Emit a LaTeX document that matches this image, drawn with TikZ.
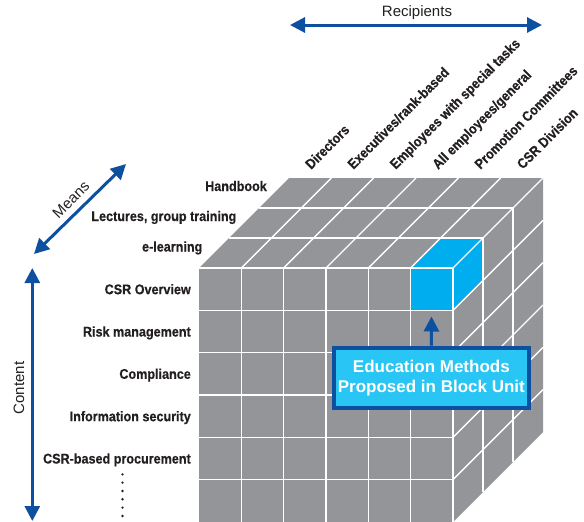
\documentclass[tikz,border=0pt]{standalone}
\usepackage{fontspec}
\setmainfont{Liberation Sans}
\newfontfamily\narrowfont{Liberation Sans}[FakeStretch=0.9, BoldFeatures={FakeBold=0.5}]
\usetikzlibrary{arrows.meta}
\definecolor{cubegray}{RGB}{147,149,152}
\definecolor{cellblue}{RGB}{0,174,239}
\definecolor{calloutfill}{RGB}{41,197,244}
\definecolor{navy}{RGB}{14,80,160}
\definecolor{ink}{RGB}{35,31,32}

\begin{document}
\begin{tikzpicture}[x=1pt,y=-1pt,
  headtip/.tip={Triangle[length=15pt,width=15pt]},
  axisarrow/.style={navy, line width=3pt, headtip-headtip},
  pointer/.style={navy, line width=3pt, -headtip},
  gridline/.style={white, line width=1.4pt},
  rowlabel/.style={font=\narrowfont\bfseries\fontsize{14}{16}\selectfont, anchor=base east, text=ink, inner sep=0pt},
  collabel/.style={rowlabel, anchor=base west, rotate=45},
  axislabel/.style={font=\fontsize{15}{18}\selectfont, text=ink, inner sep=0pt},
  callout/.style={draw=navy, line width=4pt, fill=calloutfill, text=white,
    font=\bfseries\fontsize{17}{20}\selectfont, align=center,
    minimum width=195.3pt, minimum height=60.3pt, inner sep=0pt},
]
\useasboundingbox (0,0) rectangle (584,522);

% cube faces: front, top and right side
\fill[cubegray] (199,268) rectangle (453,522);
\fill[cubegray] (199,268) -- (289,178) -- (543,178) -- (453,268) -- cycle;
\fill[cubegray] (453,268) -- (543,178) -- (543,432) -- (453,522) -- cycle;

% highlighted block at the front top right corner
\fill[cellblue] (410.67,268) rectangle (453,310.33);
\fill[cellblue] (410.67,268) -- (440.67,238) -- (483,238) -- (453,268) -- cycle;
\fill[cellblue] (453,268) -- (483,238) -- (483,280.33) -- (453,310.33) -- cycle;

% grid on the front face
\foreach \i in {1,...,6}
  \draw[gridline] ({199+42.333*\i},268) -- ({199+42.333*\i},522);
\foreach \j in {0,...,5}
  \draw[gridline] (199,{268+42.333*\j}) -- (453,{268+42.333*\j});
% grid on the top face
\foreach \k in {1,2}
  \draw[gridline] ({199+30*\k},{268-30*\k}) -- ({453+30*\k},{268-30*\k});
\foreach \i in {1,...,6}
  \draw[gridline] ({199+42.333*\i},268) -- ({289+42.333*\i},178);
% grid on the side face
\foreach \k in {1,2}
  \draw[gridline] ({453+30*\k},{268-30*\k}) -- ({453+30*\k},{522-30*\k});
\foreach \j in {1,...,5}
  \draw[gridline] (453,{268+42.333*\j}) -- (543,{178+42.333*\j});

% depth labels (means)
\node[rowlabel] (handbook) at (267,191) {Handbook};
\node[rowlabel] (lectures) at (236.5,221) {Lectures, group training};
\node[rowlabel] (elearning) at (202.5,251.5) {e-learning};

% row labels (content)
\node[rowlabel] (overview) at (191,294.2) {CSR Overview};
\node[rowlabel] (risk) at (191,336.5) {Risk management};
\node[rowlabel] (compliance) at (191,378.8) {Compliance};
\node[rowlabel] (infosec) at (191,421.2) {Information security};
\node[rowlabel] (procure) at (191,463.5) {CSR-based procurement};

% column labels (recipients)
\node[collabel] (directors) at (311,170) {Directors};
\node[collabel] (executives) at (353.3,170) {Executives/rank-based};
\node[collabel] (special) at (395.6,170) {Employees with special tasks};
\node[collabel] (general) at (438,170) {All employees/general};
\node[collabel] (promotion) at (480.3,170) {Promotion Committees};
\node[collabel] (csrdiv) at (522.6,170) {CSR Division};

% continuation dots below the last row label
\foreach \d in {0,...,6}
  \fill[ink] (122.5,{474.3+8.33*\d}) circle (1.3pt);

% axis arrows and their captions
\coordinate (recipL) at (290,25);
\coordinate (recipR) at (542,25);
\draw[axisarrow] (recipL) -- (recipR);
\node[axislabel] (recipients) at (417,13) {Recipients};

\coordinate (meansLow) at (34,254);
\coordinate (meansHigh) at (126,164);
\draw[axisarrow] (meansLow) -- (meansHigh);
\node[axislabel, rotate=45] (means) at (71,200) {Means};

\coordinate (contentTop) at (32.3,268);
\coordinate (contentBottom) at (32.3,521);
\draw[axisarrow] (contentTop) -- (contentBottom);
\node[axislabel, rotate=90] (content) at (19,388) {Content};

% callout pointing at the highlighted block
\coordinate (blockBase) at (431.5,316.5);
\node[callout] (callout) at (431.35,377.85) {Education Methods\\Proposed in Block Unit};
\draw[pointer] (callout.north) -- (blockBase);
\end{tikzpicture}
\end{document}
